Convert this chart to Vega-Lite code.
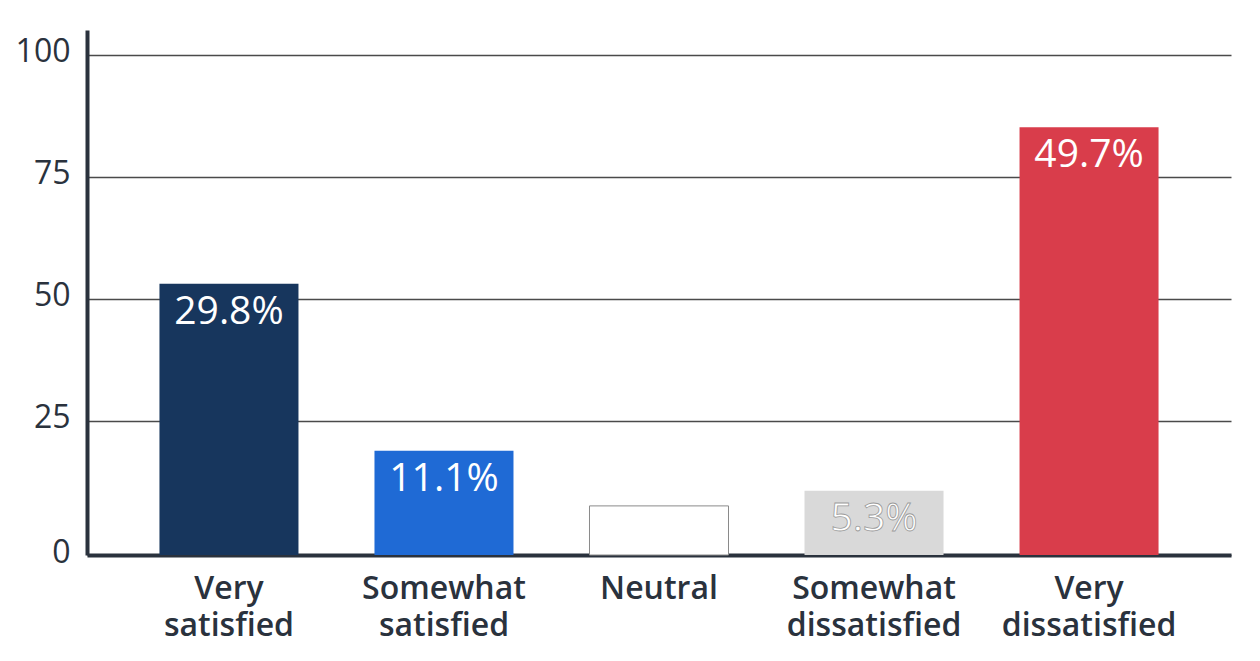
{
  "$schema": "https://vega.github.io/schema/vega-lite/v6.json",
  "autosize": {"type": "none"},
  "width": 1144,
  "height": 525,
  "padding": {"left": 87, "top": 30, "right": 29, "bottom": 106},
  "background": "white",
  "config": {
    "view": {"stroke": null},
    "font": "Open Sans"
  },
  "data": {
    "values": [
      {"category": "Very satisfied", "value": 53.1, "label": "29.8%"},
      {"category": "Somewhat satisfied", "value": 18.9, "label": "11.1%"},
      {"category": "Neutral", "value": 7.6, "label": "4.1%"},
      {"category": "Somewhat dissatisfied", "value": 10.7, "label": "5.3%"},
      {"category": "Very dissatisfied", "value": 85.2, "label": "49.7%"}
    ]
  },
  "encoding": {
    "x": {
      "field": "category",
      "type": "nominal",
      "sort": null,
      "scale": {"paddingInner": 0.3535, "paddingOuter": 0.337},
      "axis": {
        "title": null,
        "labelAngle": 0,
        "labelExpr": "split(datum.label, ' ')",
        "labelFont": "Open Sans",
        "labelFontSize": 32,
        "labelFontWeight": 600,
        "labelColor": "#2a323d",
        "labelLineHeight": 37,
        "labelLimit": 400,
        "labelPadding": 18,
        "ticks": false,
        "domainColor": "#2a323d",
        "domainWidth": 4,
        "grid": false
      }
    },
    "y": {
      "field": "value",
      "type": "quantitative",
      "scale": {"domain": [-2.46, 105.1], "nice": false, "zero": false},
      "axis": {
        "title": null,
        "values": [-2.46, 25, 50, 75, 100],
        "labelExpr": "datum.value < 0 ? '0' : datum.label",
        "labelFont": "Open Sans",
        "labelFontSize": 32,
        "labelColor": "#2a323d",
        "labelPadding": 17,
        "labelOffset": -3,
        "ticks": false,
        "domainColor": "#2a323d",
        "domainWidth": 4,
        "grid": true,
        "gridColor": "#4a4a4a",
        "gridWidth": 1.3
      }
    }
  },
  "layer": [
    {
      "mark": {"type": "bar"},
      "encoding": {
        "y2": {"datum": -2.46},
        "color": {
          "field": "category",
          "type": "nominal",
          "legend": null,
          "scale": {
            "domain": ["Very satisfied", "Somewhat satisfied", "Neutral", "Somewhat dissatisfied", "Very dissatisfied"],
            "range": ["#17365d", "#1f6ad5", "#ffffff", "#d9d9d9", "#d93d4b"]
          }
        },
        "stroke": {
          "condition": {"test": "datum.category === 'Neutral'", "value": "#8a8a8a"},
          "value": null
        },
        "strokeWidth": {"value": 1}
      }
    },
    {
      "mark": {"type": "text", "baseline": "alphabetic", "dy": 40, "fontSize": 39, "font": "Open Sans", "fill": "white"},
      "encoding": {
        "text": {"field": "label"},
        "stroke": {
          "condition": {"test": "datum.category === 'Somewhat dissatisfied'", "value": "#9a9a9a"},
          "value": null
        },
        "strokeWidth": {"value": 0.8}
      }
    }
  ]
}
